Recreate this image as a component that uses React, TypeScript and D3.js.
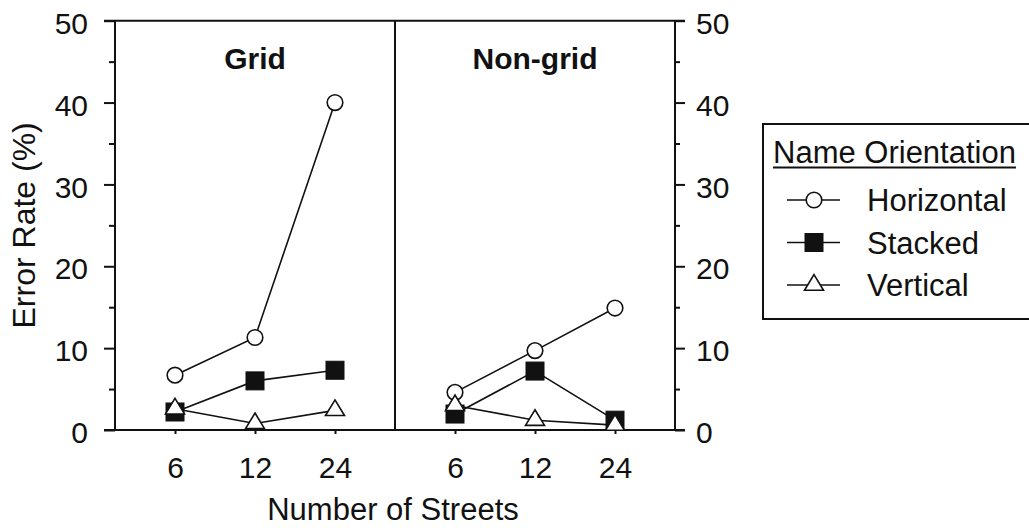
import React, { useRef, useEffect } from 'react';
import * as d3 from 'd3';

// values (error rate in %)
const streets = ['6', '12', '24'];
const panels = ['Grid', 'Non-grid'];
const seriesNames = ['Horizontal', 'Stacked', 'Vertical'];

const gridHorizontal = [6.7, 11.3, 40.0];
const gridStacked = [2.2, 6.0, 7.3];
const gridVertical = [2.6, 0.8, 2.4];

const nonGridHorizontal = [4.6, 9.7, 14.9];
const nonGridStacked = [1.95, 7.2, 1.2];
const nonGridVertical = [3.0, 1.2, 0.6];

const majorTicks = [0, 10, 20, 30, 40, 50];
const minorTicks = [5, 15, 25, 35, 45];

const FONT = '"Liberation Sans", Arial, Helvetica, sans-serif';

function App() {
  const ref = useRef<SVGSVGElement>(null);

  const width = 1029;
  const height = 528;
  const left = 115;
  const right = 675;
  const top = 20.7;
  const bottom = 430;

  useEffect(() => {
    const svg = d3.select(ref.current);
    svg.selectAll('*').remove();

    const y = d3.scaleLinear().domain([0, 50]).range([bottom, top]);
    const panelX = d3.scaleBand().domain(panels).range([left, right]);

    const data = {
      'Grid': [gridHorizontal, gridStacked, gridVertical],
      'Non-grid': [nonGridHorizontal, nonGridStacked, nonGridVertical],
    };

    // frame: top and bottom lines run over the outer ticks
    svg.append('line')
      .attr('x1', left - 11).attr('x2', right + 10)
      .attr('y1', top).attr('y2', top)
      .attr('stroke', '#111').attr('stroke-width', 2);
    svg.append('line')
      .attr('x1', left - 11).attr('x2', right + 10)
      .attr('y1', bottom).attr('y2', bottom)
      .attr('stroke', '#111').attr('stroke-width', 2);
    [left, panelX('Non-grid') as number, right].forEach(xv => {
      svg.append('line')
        .attr('x1', xv).attr('x2', xv)
        .attr('y1', top).attr('y2', bottom)
        .attr('stroke', '#111').attr('stroke-width', 2);
    });

    // y axes
    const styleAxis = (g: any) => {
      g.select('.domain').remove();
      g.selectAll('line').attr('stroke', '#111').attr('stroke-width', 2);
      g.selectAll('text')
        .attr('font-size', 30)
        .attr('font-family', FONT)
        .attr('fill', '#111')
        .attr('dy', '0.42em');
    };

    svg.append('g')
      .attr('transform', 'translate(' + left + ',0)')
      .call(d3.axisLeft(y).tickValues(majorTicks).tickSize(11).tickPadding(16).tickSizeOuter(0))
      .call(styleAxis);
    svg.append('g')
      .attr('transform', 'translate(' + left + ',0)')
      .call(d3.axisLeft(y).tickValues(minorTicks).tickSize(6).tickFormat(() => '').tickSizeOuter(0))
      .call(styleAxis);
    svg.append('g')
      .attr('transform', 'translate(' + right + ',0)')
      .call(d3.axisRight(y).tickValues(majorTicks).tickSize(10).tickPadding(11).tickSizeOuter(0))
      .call(styleAxis);
    svg.append('g')
      .attr('transform', 'translate(' + right + ',0)')
      .call(d3.axisRight(y).tickValues(minorTicks).tickSize(5).tickFormat(() => '').tickSizeOuter(0))
      .call(styleAxis);

    const tri = (s: number) => {
      const h = s * Math.sqrt(3) / 2 * 0.95;
      return 'M0,' + (-2 * h / 3) + 'L' + (s / 2) + ',' + (h / 3) + 'L' + (-s / 2) + ',' + (h / 3) + 'Z';
    };

    const drawMarker = (g: any, i: number, cx: number, cy: number) => {
      if (i === 0) {
        g.append('circle').attr('cx', cx).attr('cy', cy).attr('r', 7.8)
          .attr('fill', 'white').attr('stroke', '#111').attr('stroke-width', 1.6);
      } else if (i === 1) {
        g.append('rect').attr('x', cx - 9).attr('y', cy - 9).attr('width', 18).attr('height', 18)
          .attr('fill', '#111').attr('stroke', '#111').attr('stroke-width', 1);
      } else {
        g.append('path').attr('d', tri(19)).attr('transform', 'translate(' + cx + ',' + cy + ')')
          .attr('fill', 'white').attr('stroke', '#111').attr('stroke-width', 1.6);
      }
    };

    panels.forEach(p => {
      const x0 = panelX(p) as number;
      const x = d3.scalePoint().domain(streets).range([x0, x0 + panelX.bandwidth()]).padding(0.75);

      // x axis ticks and labels
      const ax = svg.append('g')
        .attr('transform', 'translate(0,' + bottom + ')')
        .call(d3.axisBottom(x).tickSize(4).tickPadding(23).tickSizeOuter(0));
      ax.select('.domain').remove();
      ax.selectAll('line').attr('stroke', '#111').attr('stroke-width', 2);
      ax.selectAll('text').attr('font-size', 30).attr('font-family', FONT).attr('fill', '#111');

      // panel title
      svg.append('text')
        .attr('x', x0 + panelX.bandwidth() / 2)
        .attr('y', 69)
        .attr('text-anchor', 'middle')
        .attr('font-family', FONT)
        .attr('font-weight', 'bold')
        .attr('font-size', 30)
        .attr('fill', '#111')
        .text(p);

      const line = d3.line<number>()
        .x((d, i) => x(streets[i]) as number)
        .y(d => y(d));

      const series = data[p];
      series.forEach(vals => {
        svg.append('path')
          .datum(vals)
          .attr('fill', 'none')
          .attr('stroke', '#111')
          .attr('stroke-width', 1.6)
          .attr('d', line);
      });
      series.forEach((vals, si) => {
        const g = svg.append('g');
        vals.forEach((v, i) => drawMarker(g, si, x(streets[i]) as number, y(v)));
      });
    });

    // axis titles
    svg.append('text')
      .attr('transform', 'translate(35,' + ((top + bottom) / 2) + ') rotate(-90)')
      .attr('text-anchor', 'middle')
      .attr('font-family', FONT)
      .attr('font-size', 32)
      .attr('fill', '#111')
      .text('Error Rate (%)');
    svg.append('text')
      .attr('x', (left + right) / 2 - 2)
      .attr('y', 520)
      .attr('text-anchor', 'middle')
      .attr('font-family', FONT)
      .attr('font-size', 31)
      .attr('fill', '#111')
      .text('Number of Streets');

    // legend
    const lg = svg.append('g');
    lg.append('rect')
      .attr('x', 763).attr('y', 124)
      .attr('width', 320).attr('height', 195)
      .attr('fill', 'none').attr('stroke', '#111').attr('stroke-width', 2);
    const title = lg.append('text')
      .attr('x', 773).attr('y', 163)
      .attr('font-family', FONT).attr('font-size', 31).attr('fill', '#111')
      .text('Name Orientation');
    const tl = (title.node() as SVGTextElement).getComputedTextLength();
    lg.append('line')
      .attr('x1', 773).attr('x2', 773 + tl)
      .attr('y1', 167.5).attr('y2', 167.5)
      .attr('stroke', '#111').attr('stroke-width', 2);

    const rowY = d3.scalePoint().domain(seriesNames).range([200, 285]);
    seriesNames.forEach((name, i) => {
      const ry = rowY(name) as number;
      lg.append('line')
        .attr('x1', 787).attr('x2', 840)
        .attr('y1', ry).attr('y2', ry)
        .attr('stroke', '#111').attr('stroke-width', 1.6);
      drawMarker(lg, i, 814, ry);
      lg.append('text')
        .attr('x', 867).attr('y', ry + 11)
        .attr('font-family', FONT).attr('font-size', 31).attr('fill', '#111')
        .text(name);
    });
  }, []);

  return (
    <svg ref={ref} width={width} height={height}
         style={{ position: 'absolute', left: 0, top: 0, background: 'white', display: 'block' }} />
  );
}

export default App;
